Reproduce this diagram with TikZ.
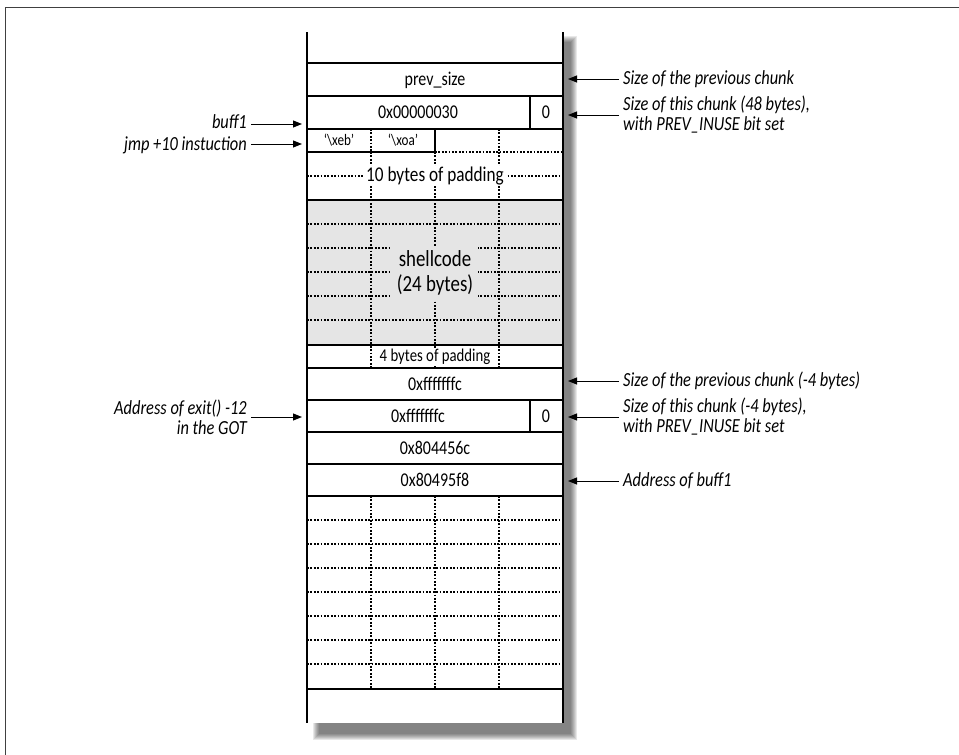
\documentclass[tikz,border=0pt]{standalone}
\usepackage{fontspec}
\setmainfont{Carlito}[FakeStretch=0.82]
\usetikzlibrary{arrows.meta,positioning}

\begin{document}
\begin{tikzpicture}[x=1pt,y=-1pt,
        cell/.style={font=\fontsize{19.5}{21}\selectfont, inner sep=1pt},
        smallcell/.style={font=\fontsize{16}{18}\selectfont, inner sep=1pt},
        note/.style={font=\fontsize{20}{20}\selectfont\itshape, align=left, inner xsep=4pt, inner ysep=0pt},
        lnote/.style={note, align=right},
        dotline/.style={line width=1.8pt, dash pattern=on 1.8pt off 1.6pt},
        wall/.style={line width=1.7pt},
        pointer/.style={-{Triangle[length=9pt,width=7pt]}, line width=1pt}
    ]

    \useasboundingbox (0,0) rectangle (959,755);
    \draw[black!75, line width=1pt] (5,755) -- (5,7) -- (959,7);

    % schatten der spalte
    \foreach \s in {0,...,6}
        \fill[black, opacity=0.09] (313+\s,36+\s) rectangle (577-\s,740-\s);
    \fill[white] (307,32) rectangle (563,723);
    \fill[black!10] (307,200) rectangle (563,345);

    % punktiertes raster
    \foreach \x in {371,435,499} \draw[dotline] (\x,152) -- (\x,368);
    \draw[dotline] (371,129) -- (371,152);
    \draw[dotline] (499,129) -- (499,152);
    \draw[dotline] (435,152) -- (563,152);
    \draw[dotline] (307,176) -- (563,176);
    \foreach \y in {224,248,...,320} \draw[dotline] (307,\y) -- (563,\y);
    \foreach \x in {371,435,499} \draw[dotline] (\x,496) -- (\x,689);
    \foreach \y in {520,544,...,664} \draw[dotline] (307,\y) -- (563,\y);

    % feste linien
    \draw[wall] (307,32) -- (307,723);
    \draw[wall] (563,32) -- (563,723);
    \foreach \y in {63,96,129,200,345,368,400,432,464,496,689}
        \draw[wall] (307,\y) -- (563,\y);
    \draw[wall] (307,152) -- (435,152) -- (435,129);
    \draw[wall] (530,96) -- (530,129);
    \draw[wall] (530,400) -- (530,432);

    % inhalt der zellen
    \node[cell] (prevsize) at (435,80) {prev\_size};
    \node[cell] (size30) at (418,112) {0x00000030};
    \node[cell] (flag30) at (546,112) {0};
    \node[smallcell] (xeb) at (339,140) {`\textbackslash xeb'};
    \node[smallcell] (xoa) at (403,140) {`\textbackslash xoa'};
    \node[cell, font=\fontsize{21}{23}\selectfont, fill=white, inner xsep=2pt] (pad10) at (435,176) {10 bytes of padding};
    \node[cell, font=\fontsize{23}{25}\selectfont, fill=black!10, align=center, inner sep=5pt] (shell) at (435,273) {shellcode\\(24 bytes)};
    \node[cell, font=\fontsize{18}{20}\selectfont, fill=white, inner ysep=0pt] (pad4) at (435,357) {4 bytes of padding};
    \node[cell] (prevm4) at (435,384) {0xfffffffc};
    \node[cell] (sizem4) at (418,416) {0xfffffffc};
    \node[cell] (flagm4) at (546,416) {0};
    \node[cell] (fwd) at (435,448) {0x804456c};
    \node[cell] (bck) at (435,480) {0x80495f8};

    % zielpunkte der pfeile
    \coordinate (prevpt) at (568,79);
    \coordinate (sizept) at (568,115);
    \coordinate (prevmpt) at (568,381);
    \coordinate (sizempt) at (568,417);
    \coordinate (buffpt) at (568,481);
    \coordinate (buffinpt) at (302,124);
    \coordinate (jmppt) at (302,144);
    \coordinate (gotpt) at (302,417);

    % beschriftungen rechts
    \node[note, anchor=west] (prevnote) at (619,79) {Size of the previous chunk};
    \node[note, anchor=west] (sizenote) at (619,115) {Size of this chunk (48 bytes),\\with PREV\_INUSE bit set};
    \node[note, anchor=west] (prevmnote) at (619,381) {Size of the previous chunk (-4 bytes)};
    \node[note, anchor=west] (sizemnote) at (619,417) {Size of this chunk (-4 bytes),\\with PREV\_INUSE bit set};
    \node[note, anchor=west] (buffnote) at (619,481) {Address of buff1};

    % beschriftungen links
    \node[lnote, anchor=east] (buffinnote) at (251,122) {buff1};
    \node[lnote, anchor=east] (jmpnote) at (251,145) {jmp +10 instuction};
    \node[lnote, anchor=east] (gotnote) at (251,417) {Address of exit() -12\\in the GOT};

    \draw[pointer] (prevnote.west) -- (prevpt);
    \draw[pointer] (sizenote.west) -- (sizept);
    \draw[pointer] (prevmnote.west) -- (prevmpt);
    \draw[pointer] (sizemnote.west) -- (sizempt);
    \draw[pointer] (buffnote.west) -- (buffpt);
    \draw[pointer] (buffinnote.east |- buffinpt) -- (buffinpt);
    \draw[pointer] (jmpnote.east |- jmppt) -- (jmppt);
    \draw[pointer] (gotnote.east) -- (gotpt);

\end{tikzpicture}
\end{document}
